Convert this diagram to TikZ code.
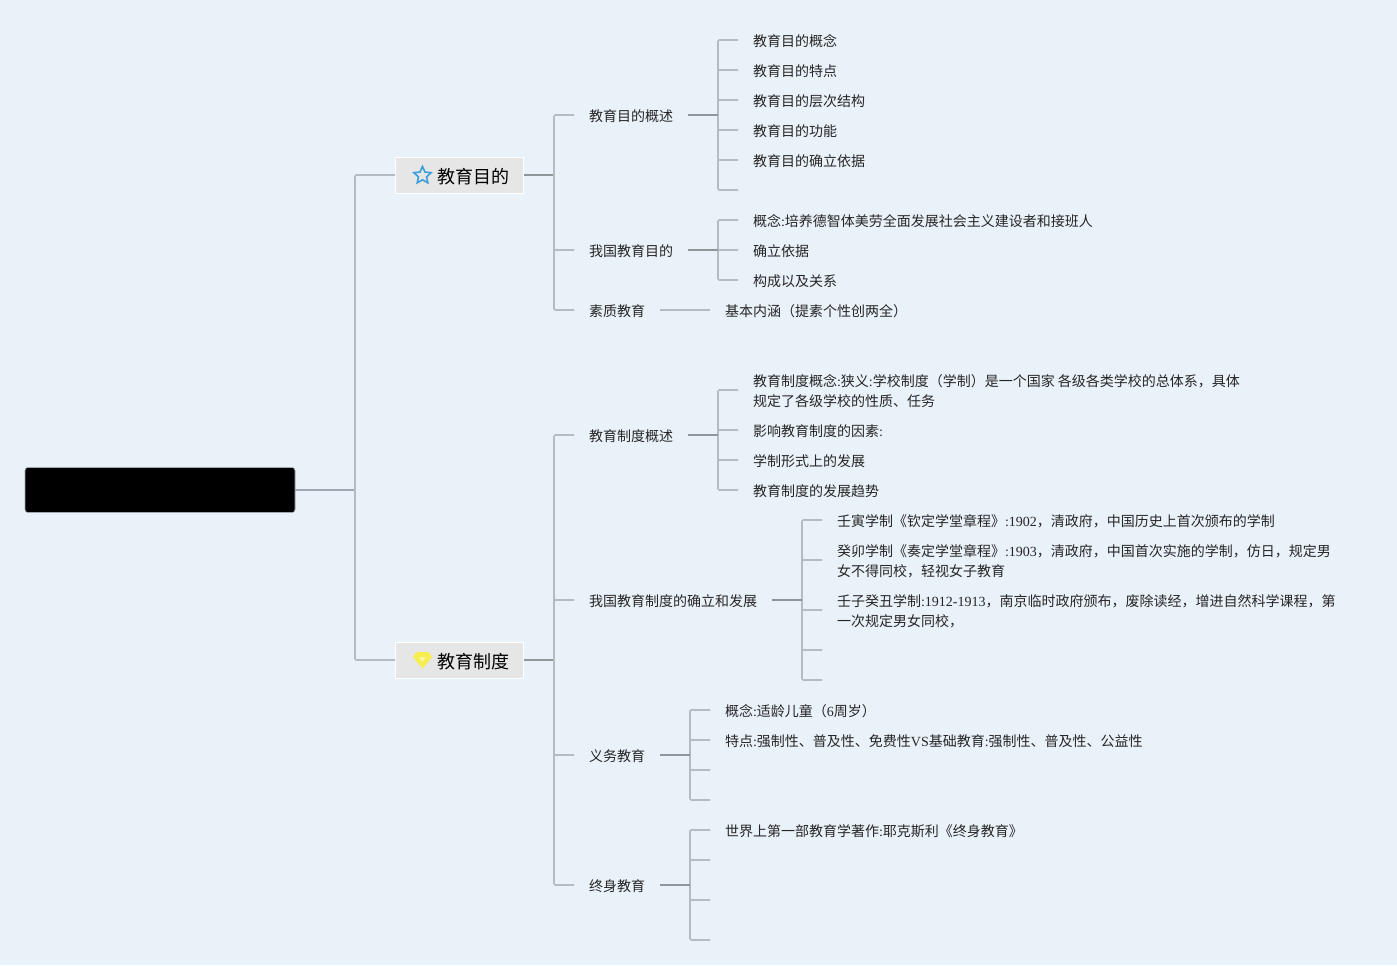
\documentclass[tikz,border=0pt]{standalone}
\usepackage{fontspec}
\setmainfont{Noto Sans CJK SC}
\newfontfamily\lat{Liberation Serif}
\usetikzlibrary{shapes.geometric}
\newcommand{\la}[1]{{\lat #1}}
\definecolor{bgc}{HTML}{E9F1F9}
\definecolor{thinc}{HTML}{B5BBC2}
\definecolor{boldc}{HTML}{8E9698}
\definecolor{rootc}{HTML}{A0A7B0}
\definecolor{boxc}{HTML}{E6E6E6}
\definecolor{starc}{HTML}{3A9FDC}
\definecolor{gemc}{HTML}{F6EE4E}
\definecolor{gemd}{HTML}{FBF7A0}
\tikzset{
  x=0.75pt,y=-0.75pt,
  txt/.style={anchor=west,inner xsep=11.25pt,inner ysep=0pt,outer sep=0pt,align=left,text=black!85,
    font=\fontsize{10.5}{15}\selectfont,text height=10pt,text depth=0.6pt},
  twoline/.style={text height=25pt},
  topic/.style={anchor=west,draw=white,line width=0.75pt,fill=boxc,inner xsep=10.5pt,inner ysep=0pt,
    minimum height=27pt,font=\fontsize{13.5}{16}\selectfont,text height=15.1pt,text depth=2.6pt},
  rootbox/.style={anchor=west,fill=black,draw=rootc,line width=0.4pt,rounded corners=2.2pt,minimum width=202.5pt,minimum height=33.75pt,inner sep=0pt,outer sep=0pt},
  branch/.style={draw=thinc,line width=1.2pt,rounded corners=1pt},
  stem/.style={draw=boldc,line width=1.6pt},
  rootline/.style={draw=rootc,line width=1.2pt},
}
\begin{document}
\begin{tikzpicture}
\path[fill=bgc] (0,0) rectangle (1397,965);
\useasboundingbox (0,0) rectangle (1397,965);
% root and topics
\node[rootbox] (root) at (25,490) {};
\node[topic] (A) at (395,175) {\hspace*{21pt}教育目的};
\node[topic] (B) at (395,660) {\hspace*{21pt}教育制度};
\node[star,star points=5,star point ratio=2.1,draw=starc,line width=1.2pt,minimum size=13.5pt,inner sep=0pt] (staricon) at (422.5,175.5) {};
\fill[gemc] (416.5,652) -- (428.5,652) -- (432,657) -- (422.5,668.5) -- (413,657) -- cycle;
\fill[gemd] (419,657) -- (426,657) -- (422.5,662) -- cycle;
\coordinate (j0) at (355,490);
\draw[rootline] (root.east) -- (j0);
\draw[branch] (j0) |- (A.west);
\draw[branch] (j0) |- (B.west);
\coordinate (jA) at (554,175);
\coordinate (jB) at (554,660);
\draw[stem] (A.east) -- (jA);
\draw[stem] (B.east) -- (jB);
% level 2
\node[txt] (a1) at (574,115) {教育目的概述};
\node[txt] (a2) at (574,250) {我国教育目的};
\node[txt] (a3) at (574,310) {素质教育};
\node[txt] (b1) at (574,435) {教育制度概述};
\node[txt] (b2) at (574,600) {我国教育制度的确立和发展};
\node[txt] (b3) at (574,755) {义务教育};
\node[txt] (b4) at (574,885) {终身教育};
\foreach \n in {a1,a2,a3} \draw[branch] (jA) |- (\n.west);
\foreach \n in {b1,b2,b3,b4} \draw[branch] (jB) |- (\n.west);
% a1 children
\coordinate (ja1) at (718,115);
\node[txt] (a11) at (738,40) {教育目的概念};
\node[txt] (a12) at (738,70) {教育目的特点};
\node[txt] (a13) at (738,100) {教育目的层次结构};
\node[txt] (a14) at (738,130) {教育目的功能};
\node[txt] (a15) at (738,160) {教育目的确立依据};
\coordinate (a16) at (738,190);
\foreach \n in {a11,a12,a13,a14,a15,a16} \draw[branch] (ja1) |- (\n);
\draw[stem] (a1.east) -- (ja1);
% a2 children
\coordinate (ja2) at (718,250);
\node[txt] (a21) at (738,220) {概念\la{:}培养德智体美劳全面发展社会主义建设者和接班人};
\node[txt] (a22) at (738,250) {确立依据};
\node[txt] (a23) at (738,280) {构成以及关系};
\foreach \n in {a21,a22,a23} \draw[branch] (ja2) |- (\n.west);
\draw[stem] (a2.east) -- (ja2);
% a3 child
\node[txt] (a31) at (710,310) {基本内涵（提素个性创两全）};
\draw[branch] (a3.east) -- (a31.west);
% b1 children
\coordinate (jb1) at (718,435);
\node[txt,twoline] (b11) at (738,390) {教育制度概念\la{:}狭义\la{:}学校制度（学制）是一个国家 各级各类学校的总体系，具体\\规定了各级学校的性质、任务};
\node[txt] (b12) at (738,430) {影响教育制度的因素\la{:}};
\node[txt] (b13) at (738,460) {学制形式上的发展};
\node[txt] (b14) at (738,490) {教育制度的发展趋势};
\foreach \n in {b11,b12,b13,b14} \draw[branch] (jb1) |- (\n.west);
\draw[stem] (b1.east) -- (jb1);
% b2 children
\coordinate (jb2) at (802,600);
\node[txt] (b21) at (822,520) {壬寅学制《钦定学堂章程》\la{:1902}，清政府，中国历史上首次颁布的学制};
\node[txt,twoline] (b22) at (822,560) {癸卯学制《奏定学堂章程》\la{:1903}，清政府，中国首次实施的学制，仿日，规定男\\女不得同校，轻视女子教育};
\node[txt,twoline] (b23) at (822,610) {壬子癸丑学制\la{:1912-1913}，南京临时政府颁布，废除读经，增进自然科学课程，第\\一次规定男女同校，};
\coordinate (b24) at (822,650);
\coordinate (b25) at (822,680);
\foreach \n in {b21,b22,b23,b24,b25} \draw[branch] (jb2) |- (\n);
\draw[stem] (b2.east) -- (jb2);
% b3 children
\coordinate (jb3) at (690,755);
\node[txt] (b31) at (710,710) {概念\la{:}适龄儿童（\la{6}周岁）};
\node[txt] (b32) at (710,740) {特点\la{:}强制性、普及性、免费性\la{VS}基础教育\la{:}强制性、普及性、公益性};
\coordinate (b33) at (710,770);
\coordinate (b34) at (710,800);
\foreach \n in {b31,b32,b33,b34} \draw[branch] (jb3) |- (\n);
\draw[stem] (b3.east) -- (jb3);
% b4 children
\coordinate (jb4) at (690,885);
\node[txt] (b41) at (710,830) {世界上第一部教育学著作\la{:}耶克斯利《终身教育》};
\coordinate (b42) at (710,860);
\coordinate (b43) at (710,900);
\coordinate (b44) at (710,940);
\foreach \n in {b41,b42,b43,b44} \draw[branch] (jb4) |- (\n);
\draw[stem] (b4.east) -- (jb4);
\end{tikzpicture}
\end{document}
